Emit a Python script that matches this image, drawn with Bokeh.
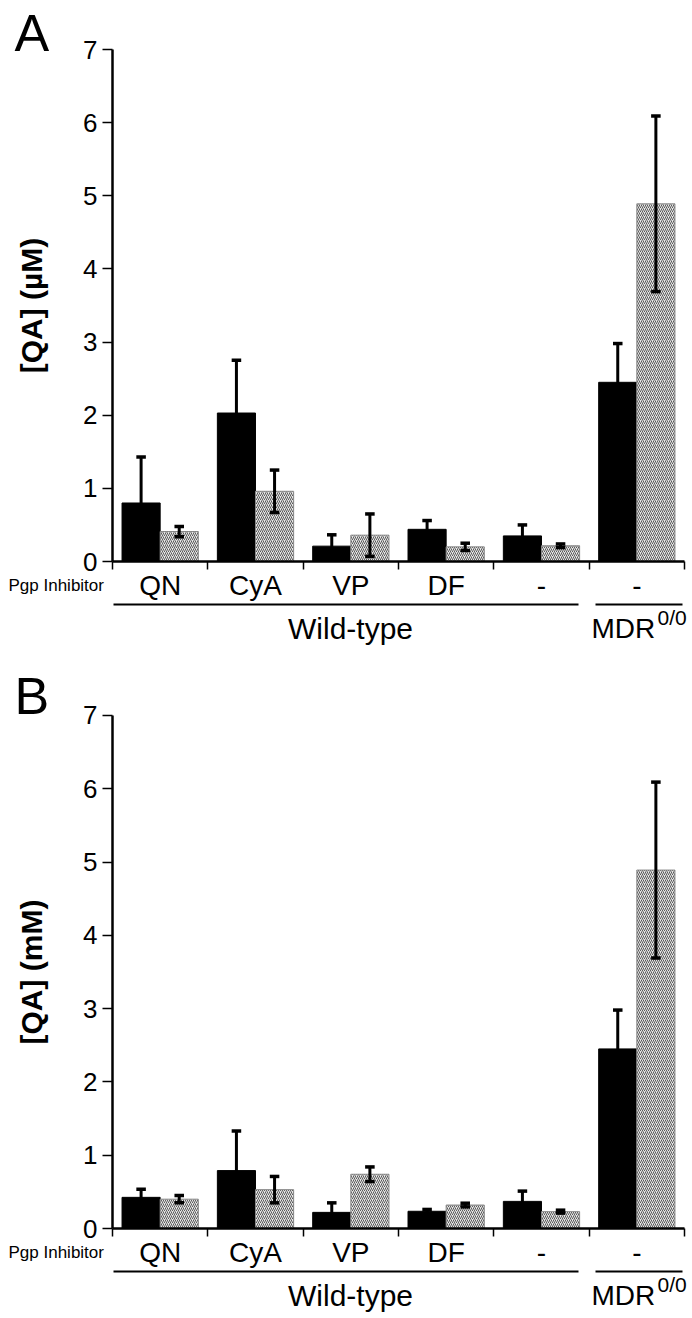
from bokeh.plotting import figure
from bokeh.models import FixedTicker, Range1d, ColumnDataSource
from bokeh.core.properties import value
from bokeh.layouts import column
from bokeh.embed import file_html
from bokeh.resources import INLINE

categories = ["QN", "CyA", "VP", "DF", "-", "-"]
inhibitor_label = "Pgp Inhibitor"
group_labels = ["Wild-type", "MDR", "0/0"]
y_ticks = [0, 1, 2, 3, 4, 5, 6, 7]

a_black = [0.80, 2.03, 0.21, 0.44, 0.35, 2.45]
a_black_err = [0.63, 0.72, 0.155, 0.12, 0.15, 0.53]
a_hatch = [0.41, 0.96, 0.36, 0.20, 0.215, 4.89]
a_hatch_err = [0.07, 0.29, 0.29, 0.05, 0.025, 1.20]

b_black = [0.425, 0.79, 0.22, 0.235, 0.37, 2.45]
b_black_err = [0.11, 0.54, 0.13, 0.025, 0.14, 0.53]
b_hatch = [0.40, 0.53, 0.74, 0.32, 0.23, 4.89]
b_hatch_err = [0.05, 0.18, 0.10, 0.025, 0.02, 1.20]

FONT = "Liberation Sans"
BAR_W = 0.4
CAP = 0.05
W = 692
H = 659
X0 = 112.0      # pixel of category 0 boundary
XS = 95.33      # pixels per category


def make_panel(letter, ylabel, black, berr, hatch, herr, base_px, ys, letter_up):
    n = len(categories)
    xr = Range1d(-X0 / XS, (W - X0) / XS)
    yr = Range1d(-(H - base_px) / ys, base_px / ys)
    p = figure(width=W, height=H, x_range=xr, y_range=yr,
               output_backend="svg", toolbar_location=None,
               min_border_left=0, min_border_right=0,
               min_border_top=0, min_border_bottom=0)
    p.outline_line_color = None
    p.xgrid.visible = False
    p.ygrid.visible = False
    p.background_fill_color = "white"
    p.border_fill_color = "white"

    def dx(px):
        return (px - X0) / XS

    def dy(px_below):
        return -px_below / ys

    xb = [i + 0.5 - BAR_W / 2 for i in range(n)]
    xh = [i + 0.5 + BAR_W / 2 for i in range(n)]

    p.vbar(x=xb, top=black, width=BAR_W, bottom=0, fill_color="black", line_color="black")
    p.vbar(x=xh, top=hatch, width=BAR_W, bottom=0, fill_color="#e6e6e6",
           line_color="#888888", line_width=1, hatch_pattern="/",
           hatch_color="#5a5a5a", hatch_scale=4, hatch_weight=1)

    xs = xb + xh
    vals = black + hatch
    errs = berr + herr
    lo = [v - e for v, e in zip(vals, errs)]
    hi = [v + e for v, e in zip(vals, errs)]
    src = ColumnDataSource(dict(x=xs, lo=lo, hi=hi,
                                x0=[x - CAP for x in xs], x1=[x + CAP for x in xs]))
    p.segment(x0="x", x1="x", y0="lo", y1="hi", source=src, line_color="black", line_width=3)
    p.segment(x0="x0", x1="x1", y0="hi", y1="hi", source=src, line_color="black", line_width=3.5)
    p.segment(x0="x0", x1="x1", y0="lo", y1="lo", source=src, line_color="black", line_width=3.5)

    ya = p.yaxis[0]
    ya.fixed_location = 0
    ya.bounds = (0, 7)
    ya.ticker = FixedTicker(ticks=y_ticks)
    ya.major_tick_out = 10
    ya.major_tick_in = 0
    ya.minor_tick_out = 0
    ya.minor_tick_in = 0
    ya.axis_line_width = 2.5
    ya.major_tick_line_width = 1.5
    ya.major_label_text_font = FONT
    ya.major_label_text_font_size = "26px"
    ya.major_label_text_color = "black"
    ya.major_label_standoff = 5
    ya.axis_label = ylabel
    ya.axis_label_text_font = FONT
    ya.axis_label_text_font_style = "bold"
    ya.axis_label_text_font_size = "30px"
    ya.axis_label_text_color = "black"
    ya.axis_label_standoff = 32

    # x axis: category names at the centres, boundary marks as minor ticks
    centres = [i + 0.5 for i in range(n)]
    xa = p.xaxis[0]
    xa.fixed_location = 0
    xa.bounds = (0, n)
    xa.ticker = FixedTicker(ticks=centres, minor_ticks=list(range(n + 1)))
    xa.major_label_overrides = {c: lab for c, lab in zip(centres, categories)}
    xa.major_tick_out = 0
    xa.major_tick_in = 0
    xa.minor_tick_out = 8
    xa.minor_tick_in = 0
    xa.minor_tick_line_width = 1.5
    xa.minor_tick_line_color = "black"
    xa.axis_line_width = 2.5
    xa.major_label_text_font = FONT
    xa.major_label_text_font_size = "28px"
    xa.major_label_text_color = "black"
    xa.major_label_standoff = 0

    def txt(xv, yv, texts, size, align="left", base="middle", style="normal"):
        p.text(x=xv, y=yv, text=texts, text_font=value(FONT), text_font_size=value(size),
               text_color="black", text_align=align, text_baseline=base,
               text_font_style=style)

    txt([dx(14)], [dy(-letter_up)], [letter], "52px")
    txt([dx(8)], [dy(24)], [inhibitor_label], "17px")
    p.segment(x0=[dx(113), dx(595)], x1=[dx(578), dx(682)], y0=[dy(43)] * 2, y1=[dy(43)] * 2,
              line_color="black", line_width=2)
    txt([dx(350)], [dy(67)], [group_labels[0]], "30px", align="center")
    txt([dx(591)], [dy(67)], [group_labels[1]], "28px")
    txt([dx(657)], [dy(56)], [group_labels[2]], "21px")
    return p


pa = make_panel("A", "[QA] (\u00b5M)", a_black, a_black_err, a_hatch, a_hatch_err, 561, 73.14, 529)
pb = make_panel("B", "[QA] (mM)", b_black, b_black_err, b_hatch, b_hatch_err, 1228 - H, 73.3, 533)

layout = column(pa, pb)
open("out.html", "w").write(file_html(layout, INLINE))
